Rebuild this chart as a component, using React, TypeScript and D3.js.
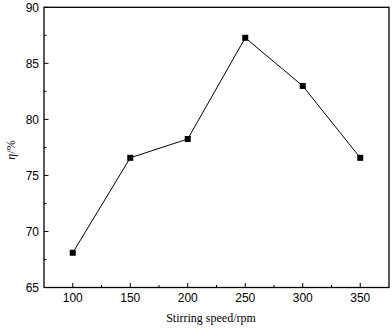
import React from "react";
import * as d3 from "d3";

const speeds = [100, 150, 200, 250, 300, 350];
const eta = [68.1, 76.57, 78.25, 87.28, 82.98, 76.57];
const xTicks = [100, 150, 200, 250, 300, 350];
const xMinor = [125, 175, 225, 275, 325];
const yTicks = [65, 70, 75, 80, 85, 90];
const yMinor = [67.5, 72.5, 77.5, 82.5, 87.5];

export default function App() {
  const W = 392, H = 329;
  const L = 44, R = 389, T = 7.3, B = 287.5;
  const x = d3.scaleLinear().domain([75, 375]).range([L, R]);
  const y = d3.scaleLinear().domain([65, 90]).range([B, T]);
  const line = d3.line<number>().x((_, i) => x(speeds[i])).y((d) => y(d));
  const num = { fontFamily: "Liberation Sans, Arial, sans-serif", fontSize: 12 };
  return (
    <svg width={W} height={H} style={{ position: "absolute", left: 0, top: 0 }}>
      <rect x={0} y={0} width={W} height={H} fill="#fff" />
      <rect x={L} y={T} width={R - L} height={B - T} fill="none" stroke="#000" strokeWidth={1.3} />
      {xTicks.map((t) => (
        <g key={"x" + t}>
          <line x1={x(t)} x2={x(t)} y1={B} y2={B - 4.5} stroke="#000" strokeWidth={1} />
          <text x={x(t)} y={302} textAnchor="middle" {...num} fill="#000">{t}</text>
        </g>
      ))}
      {xMinor.map((t) => (
        <line key={"xm" + t} x1={x(t)} x2={x(t)} y1={B} y2={B - 2.5} stroke="#000" strokeWidth={1} />
      ))}
      {yTicks.map((t) => (
        <g key={"y" + t}>
          <line x1={L} x2={L + 4.5} y1={y(t)} y2={y(t)} stroke="#000" strokeWidth={1} />
          <text x={39} y={y(t) + 4.3} textAnchor="end" {...num} fill="#000">{t}</text>
        </g>
      ))}
      {yMinor.map((t) => (
        <line key={"ym" + t} x1={L} x2={L + 2.5} y1={y(t)} y2={y(t)} stroke="#000" strokeWidth={1} />
      ))}
      <path d={line(eta) || ""} fill="none" stroke="#000" strokeWidth={1} />
      {eta.map((v, i) => (
        <rect key={"m" + i} x={x(speeds[i]) - 3} y={y(v) - 3} width={6} height={6} fill="#000" />
      ))}
      <text x={211} y={322} textAnchor="middle" fontFamily="Liberation Serif, Times New Roman, serif" fontSize={12} fill="#000">
        Stirring speed/rpm
      </text>
      <text transform={`translate(14.5,150) rotate(-90)`} textAnchor="middle" fontFamily="Liberation Serif, Times New Roman, serif" fontSize={12} fill="#000">
        <tspan fontStyle="italic">η</tspan>/%
      </text>
    </svg>
  );
}
